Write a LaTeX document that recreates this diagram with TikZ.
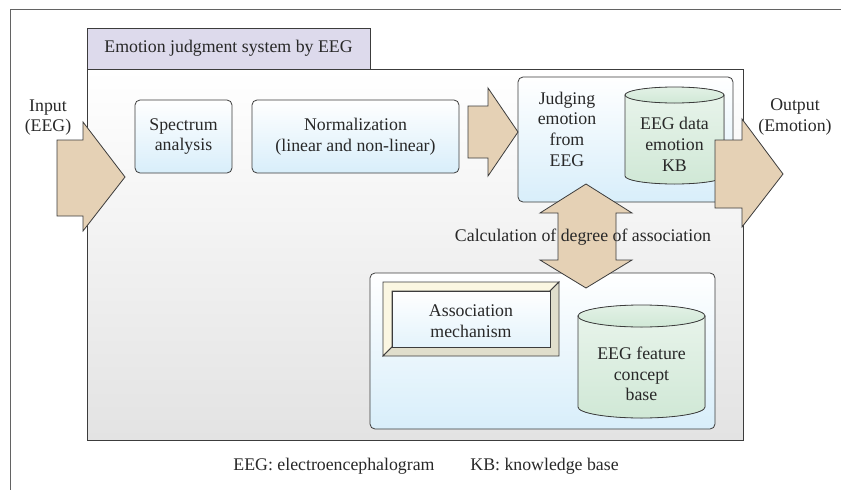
\documentclass[tikz,border=0pt]{standalone}
\usepackage{fontspec}
\setmainfont{Liberation Serif}

\definecolor{arrowtan}{RGB}{229,209,181}
\definecolor{tabfill}{RGB}{221,218,236}
\definecolor{edge}{RGB}{60,60,60}
\definecolor{ink}{RGB}{40,40,40}
\definecolor{paleblue}{RGB}{216,238,250}
\definecolor{palegreen}{RGB}{208,232,214}
\definecolor{creamlt}{RGB}{251,247,226}
\definecolor{creamdk}{RGB}{224,222,204}

\tikzset{
    procbox/.style={draw=edge, rounded corners=5pt, top color=white, bottom color=paleblue, inner sep=0pt},
    blockarrow/.style={draw=edge, fill=arrowtan, line join=miter},
    cylbody/.style={draw=edge, top color=white!50!palegreen, bottom color=palegreen},
    cyltop/.style={draw=edge, top color=palegreen!60, bottom color=palegreen},
    lbl/.style={align=center, inner sep=0pt, text=ink}
}

\begin{document}
\begin{tikzpicture}[x=1pt, y=-1pt, font=\fontsize{17.8}{20.7}\selectfont, line width=0.8pt]
        \useasboundingbox (0,0) rectangle (841,490);
        \draw[edge!80, line width=1pt] (841,9) -- (10,9) -- (10,490);

        % system panel and its tab
        \draw[edge, top color=white, bottom color=black!11] (87,69) rectangle (743,440);
        \node[draw=edge, fill=tabfill, minimum width=283pt, minimum height=41pt, text=ink] (title) at (228.5,48.5) {Emotion judgment system by EEG};

        % processing boxes
        \node[procbox, minimum width=97pt, minimum height=73pt] (spectrum) at (183.5,136.5) {};
        \node[procbox, minimum width=207pt, minimum height=73pt] (normal) at (355.5,136.5) {};
        \node[procbox, minimum width=215pt, minimum height=125pt] (judge) at (625.5,139.5) {};
        \node[procbox, minimum width=345pt, minimum height=156pt] (assocbox) at (542.5,351) {};

        % knowledge bases
        \filldraw[cylbody] (625,95) -- (625,176) arc[start angle=180, end angle=0, x radius=49.5, y radius=8] -- (724,95) -- cycle;
        \filldraw[cyltop] (674.5,95) ellipse [x radius=49.5, y radius=8];
        \filldraw[cylbody] (578,316) -- (578,407) arc[start angle=180, end angle=0, x radius=63.5, y radius=11] -- (705,316) -- cycle;
        \filldraw[cyltop] (641.5,316) ellipse [x radius=63.5, y radius=11];

        % bevelled frame
        \filldraw[draw=edge, fill=creamlt] (383,282) -- (559,282) -- (550,291) -- (392,291) -- (392,347) -- (383,356) -- cycle;
        \filldraw[draw=edge, fill=creamdk] (559,282) -- (559,356) -- (383,356) -- (392,347) -- (550,347) -- (550,291) -- cycle;
        \node[draw=edge, top color=white, bottom color=paleblue!70, minimum width=158pt, minimum height=56pt] (assoc) at (471,319) {};

        % block arrows
        \filldraw[blockarrow] (57,140) -- (83,140) -- (83,122) -- (125,177) -- (83,231) -- (83,216) -- (57,216) -- cycle;
        \filldraw[blockarrow] (468,106) -- (488,106) -- (488,88) -- (518,132) -- (488,176) -- (488,158) -- (468,158) -- cycle;
        \filldraw[blockarrow] (715,140) -- (742,140) -- (742,119) -- (783,174) -- (742,227) -- (742,208) -- (715,208) -- cycle;
        \filldraw[blockarrow] (586,184) -- (632,213) -- (616,213) -- (616,260) -- (632,260) -- (586,288) -- (540,260) -- (558,260) -- (558,213) -- (540,213) -- cycle;

        % texts
        \node[lbl] (inlbl) at (48,117.5) {Input\\(EEG)};
        \node[lbl] (outlbl) at (795,117) {Output\\(Emotion)};
        \node[lbl] (spectxt) at (183.5,136.5) {Spectrum\\analysis};
        \node[lbl] (normtxt) at (355.5,136.5) {Normalization\\(linear and non-linear)};
        \node[lbl] (judgetxt) at (567,129) {Judging\\emotion\\from\\EEG};
        \node[lbl] (kbtxt) at (674.5,144.5) {EEG data\\emotion\\KB};
        \node[lbl] (calctxt) at (583,237) {Calculation of degree of association};
        \node[lbl] (assoctxt) at (471,321) {Association\\mechanism};
        \node[lbl] (cbtxt) at (641.5,374) {EEG feature\\concept\\base};

        \node[lbl, anchor=west] (eegnote) at (233,466) {EEG: electroencephalogram};
        \node[lbl, anchor=west] (kbnote) at (470,466) {KB: knowledge base};
    \end{tikzpicture}
\end{document}
